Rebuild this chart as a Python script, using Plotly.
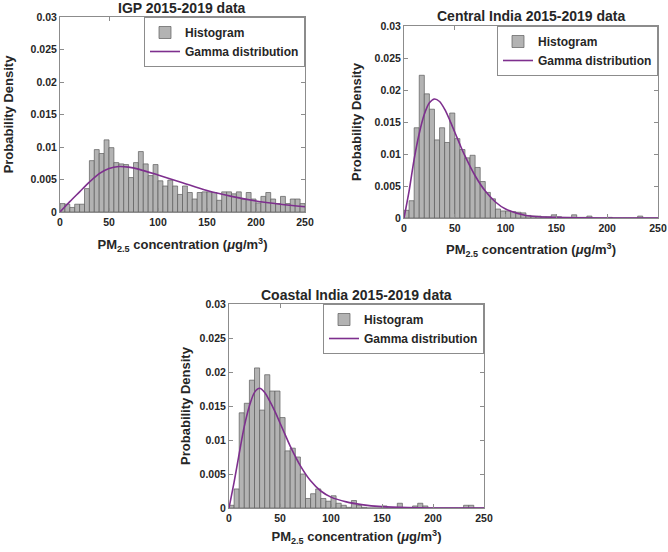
import plotly.graph_objects as go

# ---------------- data ----------------
BIN_LEFT = list(range(0, 250, 5))  # histogram bin left edges, bin width 5

IGP_DENSITY = [
    0.0013, 0.0012, 0.0007, 0.0012, 0.0012,
    0.0036, 0.0079, 0.0096, 0.0090, 0.0111,
    0.0099, 0.0076, 0.0074, 0.0073, 0.0053,
    0.0076, 0.0093, 0.0074, 0.0056, 0.0073,
    0.0048, 0.0040, 0.0049, 0.0040, 0.0027,
    0.0040, 0.0030, 0.0020, 0.0030, 0.0031,
    0.0031, 0.0030, 0.0018, 0.0031, 0.0031,
    0.0028, 0.0031, 0.0020, 0.0030, 0.0020,
    0.0014, 0.0024, 0.0030, 0.0020, 0.0013,
    0.0024, 0.0013, 0.0020, 0.0020, 0.0013,
]
CENTRAL_DENSITY = [
    0.0012, 0.0027, 0.0141, 0.0223, 0.0194,
    0.0170, 0.0122, 0.0141, 0.0118, 0.0164,
    0.0124, 0.0107, 0.0094, 0.0098, 0.0079,
    0.0057, 0.0040, 0.0030, 0.0014, 0.0011,
    0.0011, 0.0010, 0.0009, 0.0008, 0.0004,
    0.0003, 0.0003, 0.0002, 0.0002, 0.0005,
    0.0002, 0.0001, 0.0001, 0.0005, 0.0001,
    0.0001, 0.0003, 0.0, 0.0, 0.0,
    0.0001, 0.0, 0.0, 0.0, 0.0,
    0.0, 0.0003, 0.0, 0.0, 0.0,
]
COASTAL_DENSITY = [
    0.0004, 0.0028, 0.0140, 0.0154, 0.0188,
    0.0206, 0.0144, 0.0196, 0.0172, 0.0172,
    0.0133, 0.0084, 0.0088, 0.0075, 0.0050,
    0.0014, 0.0021, 0.0028, 0.0014, 0.0010,
    0.0018, 0.0007, 0.0004, 0.0001, 0.0011,
    0.0004, 0.0001, 0.0, 0.0, 0.0,
    0.0003, 0.0, 0.0, 0.0007, 0.0,
    0.0, 0.0003, 0.0007, 0.0003, 0.0,
    0.0, 0.0, 0.0, 0.0, 0.0,
    0.0, 0.0004, 0.0004, 0.0, 0.0,
]

# fitted gamma curves
IGP_GAMMA_X = [0, 5, 10, 20, 30, 40, 50, 60, 70, 80, 100, 125, 150, 175, 200, 225, 250]
IGP_GAMMA_Y = [0, 0.0008, 0.0016, 0.0031, 0.0046, 0.0059, 0.0067, 0.0070, 0.0069,
               0.0066, 0.0057, 0.0045, 0.0033, 0.0024, 0.0017, 0.0012, 0.0008]

CENTRAL_GAMMA_X = [0, 5, 10, 15, 20, 25, 30, 35, 40, 45, 50, 55, 60, 70, 80, 90,
                   100, 120, 150, 200, 250]
CENTRAL_GAMMA_Y = [0, 0.0042, 0.0092, 0.0132, 0.0162, 0.0180, 0.0186, 0.0182, 0.0170,
                   0.0153, 0.0134, 0.0115, 0.0097, 0.0066, 0.0042, 0.0025, 0.0014,
                   0.0004, 0.0001, 0.0, 0.0]

COASTAL_GAMMA_X = [0, 5, 10, 15, 20, 25, 30, 35, 40, 45, 50, 55, 60, 70, 80, 90,
                   100, 115, 130, 150, 175, 200, 250]
COASTAL_GAMMA_Y = [0, 0.0038, 0.0080, 0.0120, 0.0150, 0.0170, 0.0176, 0.0170, 0.0157,
                   0.0142, 0.0125, 0.0108, 0.0091, 0.0062, 0.0040, 0.0025, 0.0016,
                   0.0009, 0.0005, 0.0002, 0.00005, 0.0, 0.0]

TITLES = ["IGP 2015-2019 data", "Central India 2015-2019 data", "Coastal India 2015-2019 data"]
Y_TICKS = [0, 0.005, 0.01, 0.015, 0.02, 0.025, 0.03]
Y_TICK_LABELS = ["0", "0.005", "0.01", "0.015", "0.02", "0.025", "0.03"]
X_TICKS = [0, 50, 100, 150, 200, 250]
X_TICK_LABELS = ["0", "50", "100", "150", "200", "250"]

# ---------------- styling / layout ----------------
W, H = 668, 552
FONT = "Liberation Sans, Arial, sans-serif"
TXT = "#262626"
BAR_FILL = "#b3b3b3"
BAR_EDGE = "#5c5c5c"
CURVE = "#7E2F8E"
FRAME = "#8c8c8c"

# plot boxes in pixels: (left, right, top, bottom)
BOXES = [(60, 305, 17, 212), (404, 658, 26, 218), (229, 484, 304, 508)]
Y_STANDOFF = [14, 10, 6]
X_STANDOFF = [13, 12, 9]

panels = [
    (IGP_DENSITY, IGP_GAMMA_X, IGP_GAMMA_Y),
    (CENTRAL_DENSITY, CENTRAL_GAMMA_X, CENTRAL_GAMMA_Y),
    (COASTAL_DENSITY, COASTAL_GAMMA_X, COASTAL_GAMMA_Y),
]

fig = go.Figure()
layout = dict(
    width=W, height=H,
    margin=dict(l=0, r=0, t=0, b=0, autoexpand=False),
    paper_bgcolor="white", plot_bgcolor="white",
    font=dict(family=FONT, color=TXT),
    showlegend=True,
    annotations=[],
)

for i, (dens, gx, gy) in enumerate(panels):
    n = "" if i == 0 else str(i + 1)
    lg = "legend" + n
    left, right, top, bottom = BOXES[i]
    fig.add_trace(go.Bar(
        x=BIN_LEFT, y=dens, width=5, offset=0,
        marker=dict(color=BAR_FILL, line=dict(color=BAR_EDGE, width=0.7)),
        name="Histogram", legend=lg, xaxis="x" + n, yaxis="y" + n,
    ))
    fig.add_trace(go.Scatter(
        x=gx, y=gy, mode="lines", line=dict(color=CURVE, width=1.6, shape="spline", smoothing=0.8),
        name="Gamma distribution", legend=lg, xaxis="x" + n, yaxis="y" + n,
    ))
    xd = [left / W, right / W]
    yd = [1 - bottom / H, 1 - top / H]
    layout["xaxis" + n] = dict(
        domain=xd, anchor="y" + n, range=[0, 250], automargin=False,
        tickvals=X_TICKS, ticktext=X_TICK_LABELS,
        ticks="inside", ticklen=4, tickcolor=FRAME,
        showline=True, linecolor=FRAME, linewidth=1, mirror="ticks",
        showgrid=False, zeroline=False,
        tickfont=dict(size=10.5, weight="bold", color=TXT, family=FONT),
        title=dict(text="PM<sub>2.5</sub> concentration (<i>μ</i>g/m<sup>3</sup>)",
                   font=dict(size=13, weight="bold", color=TXT, family=FONT),
                   standoff=X_STANDOFF[i]),
    )
    layout["yaxis" + n] = dict(
        domain=yd, anchor="x" + n, range=[0, 0.03], automargin=False,
        tickvals=Y_TICKS, ticktext=Y_TICK_LABELS,
        ticks="inside", ticklen=4, tickcolor=FRAME,
        showline=True, linecolor=FRAME, linewidth=1, mirror="ticks",
        showgrid=False, zeroline=False,
        tickfont=dict(size=10.5, weight="bold", color=TXT, family=FONT),
        title=dict(text="Probability Density",
                   font=dict(size=13, weight="bold", color=TXT, family=FONT),
                   standoff=Y_STANDOFF[i]),
    )
    layout[lg] = dict(
        x=right / W, y=1 - top / H, xanchor="right", yanchor="top",
        bgcolor="white", bordercolor=FRAME, borderwidth=1,
        font=dict(size=12, weight="bold", color=TXT, family=FONT),
        tracegroupgap=0, itemwidth=30,
    )
    layout["annotations"].append(dict(
        text=TITLES[i], xref="paper", yref="paper",
        x=(left + right) / 2 / W, y=1 - (top - 9.5) / H,
        xanchor="center", yanchor="middle", showarrow=False,
        font=dict(size=14, weight="bold", color=TXT, family=FONT),
    ))

fig.update_layout(**layout)
fig.write_html(
    "out.html",
    config={"displayModeBar": False},
    post_script="document.body.style.margin='0';document.body.style.padding='0';",
)
